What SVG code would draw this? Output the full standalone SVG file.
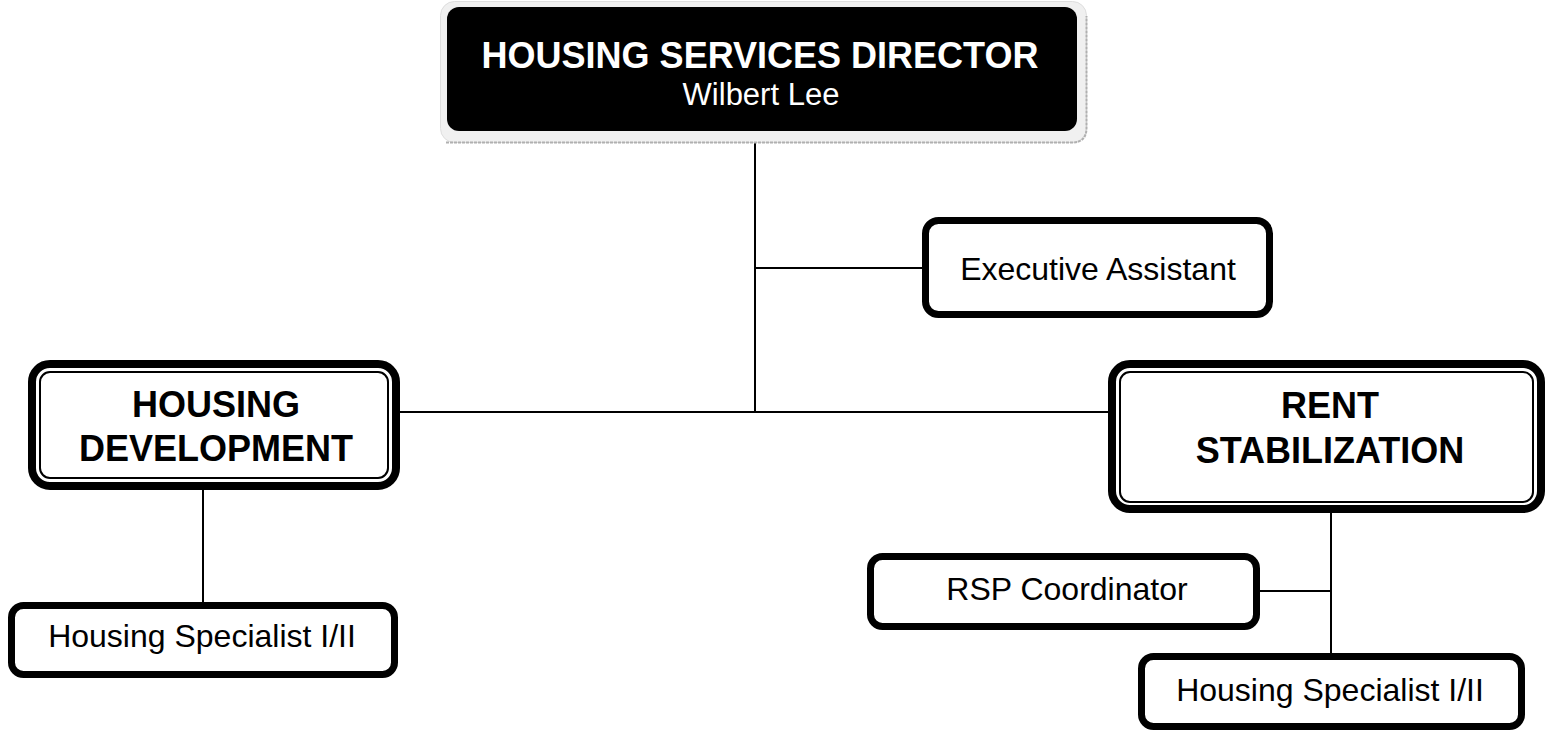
<svg xmlns="http://www.w3.org/2000/svg" width="1547" height="731" viewBox="0 0 1547 731">
<style>
.box{fill:#fff;stroke:#000;stroke-width:7}
.outer{fill:#fff;stroke:#000;stroke-width:8}
.inner{fill:none;stroke:#000;stroke-width:2}
.conn line{stroke:#000;stroke-width:2}
.t{font-family:"Liberation Sans",Arial,sans-serif;text-anchor:middle;fill:#000}
.b{font-weight:bold;font-size:36px}
.r{font-size:32px}
</style>
<rect width="1547" height="731" fill="#fff"/>
<g class="conn">
<line x1="755" y1="143" x2="755" y2="412"/>
<line x1="755" y1="268" x2="922" y2="268"/>
<line x1="400" y1="412" x2="1108" y2="412"/>
<line x1="203" y1="490" x2="203" y2="602"/>
<line x1="1331" y1="513" x2="1331" y2="653"/>
<line x1="1260" y1="591" x2="1331" y2="591"/>
</g>
<g id="director">
<rect x="440.5" y="1.5" width="646" height="141" rx="14" fill="#f0f0f0" stroke="#dedede" stroke-width="1"/>
<path d="M446 142.5 H1072 Q1086.5 142.5 1086.5 128 V16" fill="none" stroke="#b0b0b0" stroke-width="2" stroke-dasharray="3 1"/>
<rect x="447" y="7" width="630" height="124" rx="12" fill="#000"/>
<text class="t b" x="760" y="68" fill="#fff" style="fill:#fff">HOUSING SERVICES DIRECTOR</text>
<text class="t" x="761" y="105" font-size="31" style="fill:#fff">Wilbert Lee</text>
</g>
<g id="exec">
<rect class="box" x="925.5" y="220.5" width="344" height="94" rx="13"/>
<text class="t r" x="1098" y="280">Executive Assistant</text>
</g>
<g id="housingdev">
<rect class="outer" x="32" y="364" width="364" height="122" rx="18"/>
<rect class="inner" x="40" y="372" width="348" height="106" rx="10"/>
<text class="t b" x="216" y="417">HOUSING</text>
<text class="t b" x="216" y="461">DEVELOPMENT</text>
</g>
<g id="rentstab">
<rect class="outer" x="1112" y="364" width="429" height="145" rx="18"/>
<rect class="inner" x="1120" y="372" width="413" height="130" rx="10"/>
<text class="t b" x="1330" y="418">RENT</text>
<text class="t b" x="1330" y="463">STABILIZATION</text>
</g>
<g id="hs-left">
<rect class="box" x="11.5" y="605.5" width="383" height="69" rx="12"/>
<text class="t r" x="202" y="647">Housing Specialist I/II</text>
</g>
<g id="rsp">
<rect class="box" x="870.5" y="556.5" width="386" height="70" rx="12"/>
<text class="t r" x="1067" y="600">RSP Coordinator</text>
</g>
<g id="hs-right">
<rect class="box" x="1141.5" y="656.5" width="380" height="70" rx="12"/>
<text class="t r" x="1330" y="701">Housing Specialist I/II</text>
</g>
</svg>
